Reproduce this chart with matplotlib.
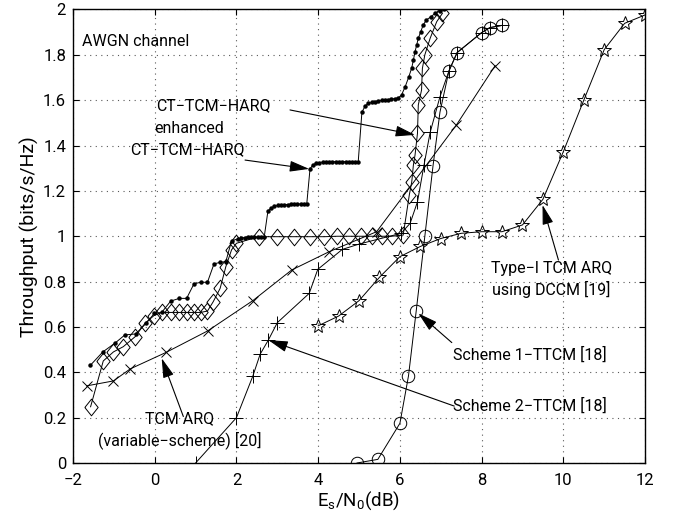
import matplotlib
matplotlib.use("Agg")
import matplotlib.pyplot as plt
import numpy as np

plt.rcParams['font.family'] = ['Roboto', 'DejaVu Sans']
plt.rcParams['mathtext.default'] = 'regular'

# enhanced CT-TCM-HARQ (small dots)
enh_x = [-1.58, -1.27, -0.97, -0.73, -0.47, -0.21, -0.01, 0.17, 0.39, 0.6, 0.78, 0.96, 1.12, 1.29,
         1.45, 1.6, 1.74, 1.88, 2.03, 2.12, 2.2, 2.28, 2.36, 2.44, 2.52, 2.6, 2.68,
         2.77, 2.85, 2.93, 3.01, 3.09, 3.17, 3.25, 3.33, 3.41, 3.49, 3.57, 3.65, 3.72,
         3.8, 3.87, 3.95, 4.03, 4.11, 4.19, 4.27, 4.35, 4.43, 4.51, 4.59, 4.67, 4.75, 4.83, 4.91, 4.98,
         5.07, 5.15, 5.23, 5.31, 5.39, 5.47, 5.55, 5.63, 5.71, 5.79, 5.87, 5.96, 6.04, 6.13, 6.22,
         6.29, 6.33, 6.37, 6.41, 6.45, 6.51, 6.57, 6.65, 6.76, 6.86, 6.98, 7.09]
enh_y = [0.43, 0.49, 0.529, 0.565, 0.569, 0.616, 0.66, 0.664, 0.714, 0.726, 0.726, 0.79, 0.797, 0.797,
         0.878, 0.885, 0.888, 0.98, 0.988, 0.992, 0.994, 0.995, 0.996, 0.997, 0.997, 0.998, 0.998,
         1.111, 1.125, 1.132, 1.136, 1.138, 1.139, 1.14, 1.141, 1.141, 1.142, 1.142, 1.142, 1.142,
         1.297, 1.314, 1.322, 1.325, 1.327, 1.328, 1.328, 1.329, 1.329, 1.329, 1.329, 1.329, 1.329, 1.329, 1.329, 1.329,
         1.547, 1.575, 1.586, 1.59, 1.594, 1.597, 1.599, 1.601, 1.603, 1.605, 1.607, 1.61, 1.623, 1.66, 1.704,
         1.743, 1.777, 1.814, 1.843, 1.873, 1.902, 1.932, 1.954, 1.968, 1.983, 1.993, 2.0]

# CT-TCM-HARQ (diamonds)
ct_x = [-1.57, -1.26, -1.01, -0.77, -0.48, -0.24, -0.02, 0.17, 0.39, 0.6, 0.78, 0.96, 1.12, 1.29,
        1.43, 1.6, 1.74, 1.88, 2.0, 2.54, 2.98, 3.42, 3.8, 4.15, 4.47, 4.75, 5.04, 5.31, 5.55, 5.8,
        6.08, 6.23, 6.29, 6.33, 6.37, 6.43, 6.45, 6.53, 6.55, 6.61, 6.74, 6.9, 7.04]
ct_y = [0.248, 0.45, 0.49, 0.513, 0.557, 0.616, 0.65, 0.664, 0.664, 0.664, 0.664, 0.664, 0.664, 0.67,
        0.711, 0.77, 0.866, 0.94, 0.969, 0.998, 0.998, 0.998, 0.998, 0.998, 1.0, 1.0, 1.0, 1.0, 1.0, 1.0,
        1.005, 1.182, 1.24, 1.314, 1.358, 1.454, 1.579, 1.645, 1.74, 1.8, 1.873, 1.946, 1.983]

# TCM ARQ (variable-scheme) [20] (x)
var_x = [-1.67, -1.01, -0.6, 0.28, 1.3, 2.4, 3.35, 4.27, 5.43, 7.38, 8.33]
var_y = [0.34, 0.362, 0.415, 0.488, 0.583, 0.716, 0.851, 0.932, 1.02, 1.49, 1.752]

# Scheme 2-TTCM [18] (+)
s2_x = [1.0, 2.0, 2.4, 2.58, 2.78, 3.0, 3.78, 3.99, 4.59, 5.01, 6.03, 6.25, 6.43, 6.59, 6.74, 6.98,
        7.2, 7.4, 8.0, 8.2, 8.5]
s2_y = [0.0, 0.2, 0.383, 0.48, 0.542, 0.619, 0.748, 0.854, 0.942, 0.966, 1.013, 1.057, 1.152, 1.314,
        1.458, 1.615, 1.729, 1.81, 1.898, 1.92, 1.93]

# Scheme 1-TTCM [18] (o)
s1_x = [4.95, 5.46, 6.0, 6.21, 6.4, 6.61, 6.81, 6.98, 7.2, 7.4, 8.0, 8.2, 8.5]
s1_y = [0.0, 0.016, 0.175, 0.384, 0.672, 1.0, 1.31, 1.547, 1.729, 1.81, 1.898, 1.92, 1.93]

# Type-I TCM ARQ using DCCM [19] (stars)
dc_x = [4.0, 4.5, 5.0, 5.5, 6.0, 6.5, 7.0, 7.5, 8.0, 8.5, 9.0, 9.5, 10.0, 10.5, 11.0, 11.5, 12.0]
dc_y = [0.605, 0.648, 0.716, 0.819, 0.91, 0.955, 0.99, 1.013, 1.02, 1.02, 1.05, 1.163, 1.373, 1.6,
        1.823, 1.939, 1.976]

fig = plt.figure(figsize=(6.73, 5.19), dpi=100)
ax = fig.add_axes([0.1085, 0.1079, 0.85, 0.8738])

lw = 0.7
fs = 11.5
diamond = [(-0.8, 0), (0, 1), (0.8, 0), (0, -1), (-0.8, 0)]
ax.plot(var_x, var_y, 'k-', marker='x', ms=7, mew=0.7, lw=lw)
ax.plot(s2_x, s2_y, 'k-', marker='+', ms=10, mew=0.7, lw=lw)
ax.plot(s1_x, s1_y, 'k-', marker='o', ms=9, mfc='none', mew=0.7, lw=lw)
ax.plot(dc_x, dc_y, 'k-', marker='*', ms=10.5, mfc='none', mew=0.7, lw=lw)
ax.plot(ct_x, ct_y, 'k-', marker=diamond, ms=12, mfc='none', mew=0.7, lw=lw)
ax.plot(enh_x, enh_y, 'k-', marker='o', ms=2.2, lw=lw)

ax.set_xlim(-2, 12)
ax.set_ylim(0, 2)
ax.set_xticks(np.arange(-2, 13, 2))
ax.set_yticks(np.arange(0, 2.01, 0.2))
ax.set_yticklabels(['0', '0.2', '0.4', '0.6', '0.8', '1', '1.2', '1.4', '1.6', '1.8', '2'])
ax.grid(True, color='0.35', linestyle=(0, (1, 4)), lw=0.8)
ax.tick_params(direction='in', top=True, right=True, labelsize=12, length=4)
ax.tick_params(axis='x', pad=7)
ax.tick_params(axis='y', pad=5)
for s in ax.spines.values():
    s.set_linewidth(1.0)
ax.set_xlabel(r'E$_s$/N$_0$(dB)', fontsize=13.5, labelpad=1)
ax.set_ylabel('Throughput (bits/s/Hz)', fontsize=14, labelpad=3)

ax.text(-1.78, 1.857, 'AWGN channel', fontsize=fs, va='center')

arrow = dict(arrowstyle='-|>,head_length=1.0,head_width=0.28', color='k', lw=0.8,
             shrinkA=0, shrinkB=0, mutation_scale=12)

ax.annotate('', xy=(6.37, 1.447), xytext=(3.31, 1.557), arrowprops=arrow)
ax.text(1.43, 1.574, 'CT\u2212TCM\u2212HARQ', fontsize=fs, ha='center', va='center')

ax.annotate('', xy=(3.78, 1.297), xytext=(2.21, 1.336), arrowprops=arrow)
ax.text(0.85, 1.477, 'enhanced', fontsize=fs, ha='center', va='center')
ax.text(0.8, 1.38, 'CT\u2212TCM\u2212HARQ', fontsize=fs, ha='center', va='center')

ax.annotate('', xy=(0.17, 0.462), xytext=(0.70, 0.205), arrowprops=arrow)
ax.text(0.6, 0.195, 'TCM ARQ', fontsize=fs, ha='center', va='center')
ax.text(0.6, 0.10, '(variable\u2212scheme) [20]', fontsize=fs, ha='center', va='center')

ax.annotate('', xy=(6.45, 0.66), xytext=(7.27, 0.531), arrowprops=arrow)
ax.text(7.3, 0.476, 'Scheme 1\u2212TTCM [18]', fontsize=fs, ha='left', va='center')

ax.annotate('', xy=(2.78, 0.542), xytext=(7.33, 0.251), arrowprops=arrow)
ax.text(7.3, 0.251, 'Scheme 2\u2212TTCM [18]', fontsize=fs, ha='left', va='center')

ax.annotate('', xy=(9.49, 1.138), xytext=(9.88, 0.895), arrowprops=arrow)
ax.text(9.7, 0.856, 'Type\u2212I TCM ARQ', fontsize=fs, ha='center', va='center')
ax.text(9.7, 0.763, 'using DCCM [19]', fontsize=fs, ha='center', va='center')

fig.savefig('out.png', dpi=100)
